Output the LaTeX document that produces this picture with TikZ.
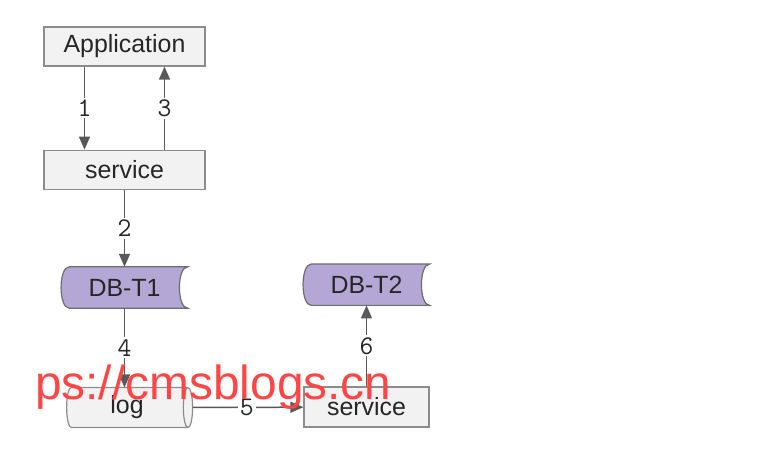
\documentclass[tikz,border=0pt]{standalone}
\usepackage{fontspec}
\setmainfont{Liberation Sans}
\usetikzlibrary{shapes.geometric, arrows.meta, positioning, backgrounds}
\definecolor{boxfill}{HTML}{F2F2F2}
\definecolor{boxline}{HTML}{8C8C8C}
\definecolor{dbfill}{HTML}{B4A7D6}
\definecolor{dbline}{HTML}{6E6E6E}
\definecolor{arrowgray}{HTML}{595959}
\definecolor{markred}{HTML}{FF4646}
\tikzstyle{box} = [rectangle, minimum width=161bp, minimum height=39bp, inner sep=0pt, line width=1.2bp, draw=boxline, fill=boxfill, text=black!85, font=\fontsize{25}{30}\selectfont]
\tikzstyle{db} = [rectangle, minimum width=126bp, minimum height=41bp, inner sep=0pt, text=black!85, font=\fontsize{25}{30}\selectfont]
\tikzstyle{dbshape} = [draw=dbline, line width=1.2bp, fill=dbfill]
\tikzstyle{logcyl} = [cylinder, shape aspect=0.4, minimum width=40bp, minimum height=126bp, inner sep=0pt, outer sep=0pt, draw=boxline, line width=1.2bp, fill=boxfill, text=black!85, font=\fontsize{25}{30}\selectfont]
\tikzstyle{arrow} = [line width=1.5bp, draw=arrowgray, -{Triangle[length=13bp, width=11bp]}]
\tikzstyle{num} = [fill=white, inner sep=2bp, text=black!85, font=\ttfamily\fontsize{27}{30}\selectfont]

\begin{document}
\begin{tikzpicture}[x=1bp, y=-1bp]
\useasboundingbox (0,0) rectangle (784,462);

% Top
\node (app) [box] at (124.5,46.5) {Application};
\node (srv1) [box, below=83bp of app] {service};

% Tables
\node (db1) [db, below=77bp of srv1] {DB-T1};
\node (log) [logcyl] at (127,407.5) {log};
\node (srv2) [box, minimum width=125bp, minimum height=40bp] at (366.5,407) {service};
\node (db2) [db, above=81bp of srv2] {DB-T2};

% Stored data outlines
\begin{scope}[on background layer]
\foreach \t in {db1, db2}
  \draw [dbshape] ([xshift=8bp]\t.north west) -- (\t.north east)
    .. controls ([xshift=-11bp]\t.north east) and ([xshift=-11bp]\t.south east) .. (\t.south east)
    -- ([xshift=8bp]\t.south west)
    .. controls ([xshift=-3bp]\t.south west) and ([xshift=-3bp]\t.north west) .. cycle;
\end{scope}

% Arrows
\draw [arrow] ([xshift=-40bp]app.south) -- node[num] {1} ([xshift=-40bp]srv1.north);
\draw [arrow] ([xshift=40bp]srv1.north) -- node[num] {3} ([xshift=40bp]app.south);
\draw [arrow] (srv1) -- node[num] {2} (db1);
\draw [arrow] (db1) -- node[num] {4} (db1 |- log.north);
\draw [arrow] (log.east) -- node[num, pos=0.49] {5} (srv2);
\draw [arrow] (srv2) -- node[num] {6} (db2);

% Watermark
\node (mark) [anchor=base west, inner sep=0pt, text=markred, font=\fontsize{48}{52}\selectfont] at (35,399) {ps://cmsblogs.cn};

\end{tikzpicture}
\end{document}
